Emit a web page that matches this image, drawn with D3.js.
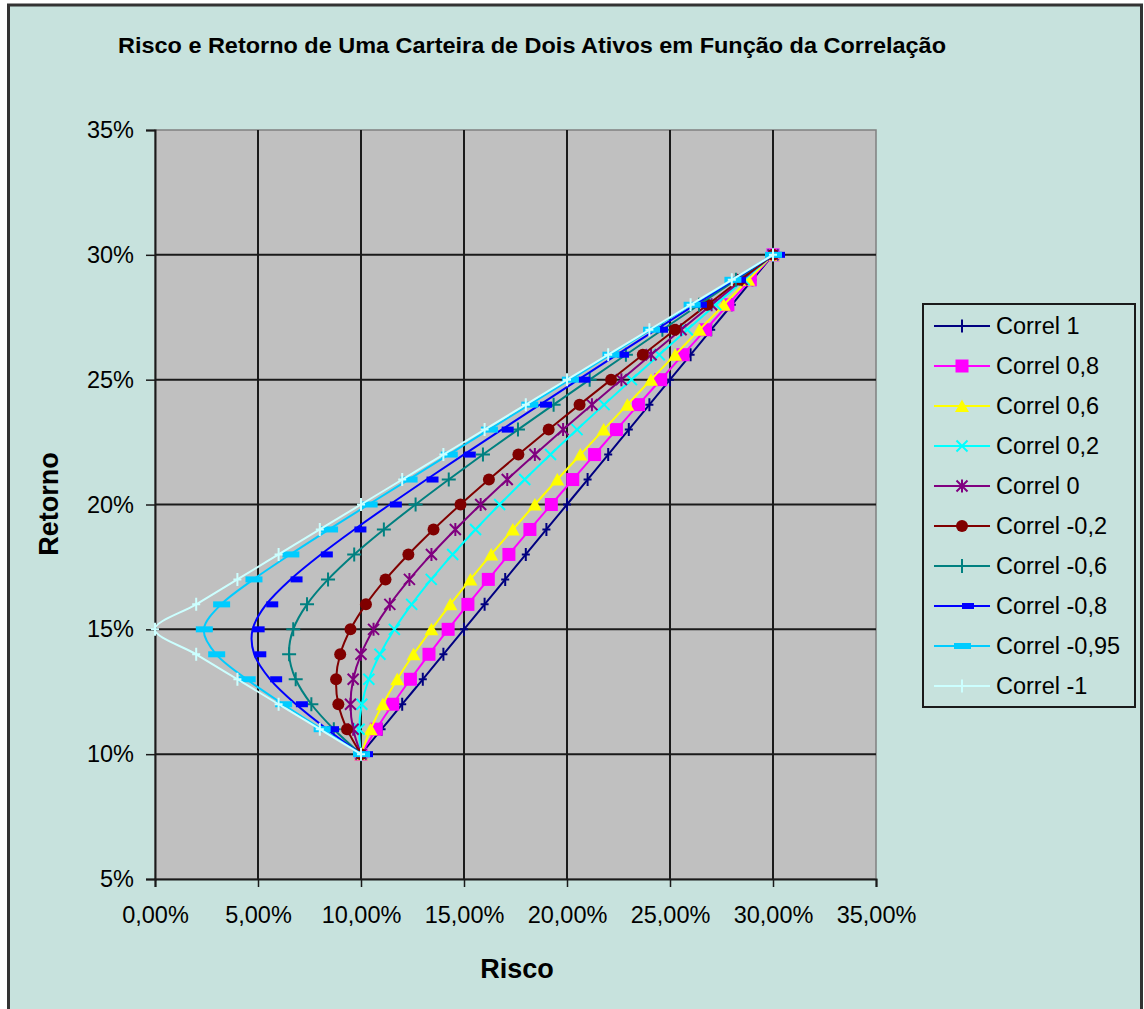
<!DOCTYPE html>
<html>
<head>
<meta charset="utf-8">
<script src="https://cdn.jsdelivr.net/npm/d3@7"></script>
<style>
    body { margin: 0; background: #ffffff; }
    text { font-family: "Liberation Sans", Arial, sans-serif; fill: #000; }
</style>
</head>
<body>
<div id="chart-area"></div>
<script>
// retorno da carteira (%), pesos de 0% a 100% no ativo de maior risco
let retornos = [10, 11, 12, 13, 14, 15, 16, 17, 18, 19, 20, 21, 22, 23, 24, 25, 26, 27, 28, 29, 30];

// risco da carteira (%) para cada correlação
let riscoCorrel1 = [10, 11, 12, 13, 14, 15, 16, 17, 18, 19, 20, 21, 22, 23, 24, 25, 26, 27, 28, 29, 30];
let riscoCorrel08 = [10, 10.74, 11.54, 12.40, 13.30, 14.23, 15.19, 16.18, 17.18, 18.20, 19.24, 20.28, 21.34, 22.40, 23.47, 24.55, 25.63, 26.72, 27.81, 28.90, 30];
let riscoCorrel06 = [10, 10.47, 11.06, 11.76, 12.55, 13.42, 14.34, 15.31, 16.32, 17.37, 18.44, 19.53, 20.65, 21.78, 22.93, 24.08, 25.25, 26.43, 27.61, 28.80, 30];
let riscoCorrel02 = [10, 9.91, 10.04, 10.38, 10.92, 11.62, 12.46, 13.41, 14.45, 15.56, 16.73, 17.95, 19.20, 20.49, 21.80, 23.13, 24.48, 25.84, 27.22, 28.60, 30];
let riscoCorrel0 = [10, 9.62, 9.49, 9.62, 10, 10.61, 11.40, 12.35, 13.42, 14.58, 15.81, 17.10, 18.44, 19.81, 21.21, 22.64, 24.08, 25.54, 27.02, 28.50, 30];
let riscoCorrelM02 = [10, 9.32, 8.90, 8.79, 8.99, 9.49, 10.24, 11.19, 12.30, 13.52, 14.83, 16.21, 17.64, 19.11, 20.61, 22.14, 23.68, 25.24, 26.82, 28.40, 30];
let riscoCorrelM06 = [10, 8.68, 7.59, 6.83, 6.51, 6.71, 7.38, 8.40, 9.67, 11.11, 12.65, 14.26, 15.92, 17.62, 19.35, 21.10, 22.86, 24.63, 26.41, 28.20, 30];
let riscoCorrelM08 = [10, 8.35, 6.84, 5.59, 4.82, 4.74, 5.40, 6.58, 8.05, 9.68, 11.40, 13.18, 14.99, 16.83, 18.69, 20.55, 22.43, 24.32, 26.21, 28.10, 30];
let riscoCorrelM095 = [10, 8.09, 6.22, 4.45, 2.97, 2.37, 3.21, 4.78, 6.57, 8.45, 10.37, 12.31, 14.26, 16.21, 18.17, 20.14, 22.11, 24.08, 26.05, 28.03, 30];
let riscoCorrelM1 = [10, 8, 6, 4, 2, 0, 2, 4, 6, 8, 10, 12, 14, 16, 18, 20, 22, 24, 26, 28, 30];

let nomesSeries = ["Correl 1", "Correl 0,8", "Correl 0,6", "Correl 0,2", "Correl 0",
    "Correl -0,2", "Correl -0,6", "Correl -0,8", "Correl -0,95", "Correl -1"];
let riscosSeries = [riscoCorrel1, riscoCorrel08, riscoCorrel06, riscoCorrel02, riscoCorrel0,
    riscoCorrelM02, riscoCorrelM06, riscoCorrelM08, riscoCorrelM095, riscoCorrelM1];

let xTicks = [0, 5, 10, 15, 20, 25, 30, 35];
let yTicks = [5, 10, 15, 20, 25, 30, 35];

// estilo de cada série (cor + marcador estilo Excel)
let estilos = [
    {color: "#000080", marker: "plusV"},
    {color: "#FF00FF", marker: "square"},
    {color: "#FFFF00", marker: "triangle"},
    {color: "#00FFFF", marker: "x"},
    {color: "#800080", marker: "star"},
    {color: "#800000", marker: "circle"},
    {color: "#008080", marker: "plus"},
    {color: "#0000FF", marker: "dashR"},
    {color: "#00CCFF", marker: "dashC"},
    {color: "#CCFFFF", marker: "plusV"}
];

class RiskReturnChart {
    constructor(parentElement) {
        this.parentElement = parentElement;
        this.initVis();
    }

    initVis() {
        let vis = this;
        vis.W = 1144;
        vis.H = 1009;
        vis.plot = {left: 155, right: 876, top: 130, bottom: 879};

        vis.svg = d3.select("#" + vis.parentElement).append("svg")
            .attr("width", vis.W)
            .attr("height", vis.H);

        // fundo do gráfico
        vis.svg.append("rect")
            .attr("x", 8.5).attr("y", 5)
            .attr("width", 1133).attr("height", 1020)
            .attr("fill", "#C7E2DD")
            .attr("stroke", "#333")
            .attr("stroke-width", 3);

        vis.svg.append("text")
            .attr("x", 118).attr("y", 53)
            .attr("textLength", 828)
            .attr("lengthAdjust", "spacingAndGlyphs")
            .style("font-size", "22px")
            .style("font-weight", "bold")
            .text("Risco e Retorno de Uma Carteira de Dois Ativos em Função da Correlação");

        vis.x = d3.scaleLinear().domain([0, 35]).range([vis.plot.left, vis.plot.right]);
        vis.y = d3.scaleLinear().domain([5, 35]).range([vis.plot.bottom, vis.plot.top]);

        // área de plotagem
        vis.svg.append("rect")
            .attr("x", vis.plot.left).attr("y", vis.plot.top)
            .attr("width", vis.plot.right - vis.plot.left)
            .attr("height", vis.plot.bottom - vis.plot.top)
            .attr("fill", "#C0C0C0")
            .attr("stroke", "#808080")
            .attr("stroke-width", 1.5);

        // grades
        vis.svg.append("g").selectAll("line.vgrid")
            .data(xTicks.filter(d => d > 0 && d < 35))
            .join("line")
            .attr("x1", d => vis.x(d)).attr("x2", d => vis.x(d))
            .attr("y1", vis.plot.top).attr("y2", vis.plot.bottom)
            .attr("stroke", "#1a1a1a").attr("stroke-width", 2);
        vis.svg.append("g").selectAll("line.hgrid")
            .data(yTicks.filter(d => d > 5 && d < 35))
            .join("line")
            .attr("x1", vis.plot.left).attr("x2", vis.plot.right)
            .attr("y1", d => vis.y(d)).attr("y2", d => vis.y(d))
            .attr("stroke", "#1a1a1a").attr("stroke-width", 2);

        // eixos
        vis.xAxis = d3.axisBottom(vis.x)
            .tickValues(xTicks)
            .tickSize(8)
            .tickPadding(19)
            .tickFormat(d => d.toFixed(2).replace(".", ",") + "%");
        vis.yAxis = d3.axisLeft(vis.y)
            .tickValues(yTicks)
            .tickSize(9)
            .tickPadding(12)
            .tickFormat(d => d + "%");

        vis.svg.append("g")
            .attr("class", "x-axis axis")
            .attr("transform", "translate(0," + vis.plot.bottom + ")");
        vis.svg.append("g")
            .attr("class", "y-axis axis")
            .attr("transform", "translate(" + vis.plot.left + ",0)");

        // títulos dos eixos
        vis.svg.append("text")
            .attr("x", 517).attr("y", 978)
            .attr("text-anchor", "middle")
            .style("font-size", "27px")
            .style("font-weight", "bold")
            .text("Risco");
        vis.svg.append("text")
            .attr("transform", "translate(58,504) rotate(-90)")
            .attr("text-anchor", "middle")
            .style("font-size", "27px")
            .style("font-weight", "bold")
            .text("Retorno");

        vis.wrangleData();
    }

    wrangleData() {
        let vis = this;
        vis.displayData = nomesSeries.map((nome, i) => ({
            nome: nome,
            estilo: estilos[i],
            pontos: riscosSeries[i].map((r, j) => ({risco: r, retorno: retornos[j]}))
        }));
        vis.updateVis();
    }

    drawMarker(g, tipo, color) {
        if (tipo === "square") {
            g.append("rect").attr("x", -6.5).attr("y", -6.5).attr("width", 13).attr("height", 13).attr("fill", color);
        } else if (tipo === "triangle") {
            g.append("path").attr("d", "M0,-6.5L7,6H-7Z").attr("fill", color);
        } else if (tipo === "circle") {
            g.append("circle").attr("r", 6).attr("fill", color);
        } else if (tipo === "dashR") {
            g.append("rect").attr("x", 0).attr("y", -3).attr("width", 12).attr("height", 6).attr("fill", color);
        } else if (tipo === "dashC") {
            g.append("rect").attr("x", -8).attr("y", -3).attr("width", 17).attr("height", 6).attr("fill", color);
        } else {
            let d = {
                plus: "M0,-7V7M-7,0H7",
                plusV: "M0,-6.5V6.5M-4,0H4",
                x: "M-5.5,-5.5L5.5,5.5M-5.5,5.5L5.5,-5.5",
                star: "M-5.5,-5.5L5.5,5.5M-5.5,5.5L5.5,-5.5M0,-6.5V6.5"
            }[tipo];
            g.append("path").attr("d", d).attr("fill", "none")
                .attr("stroke", color).attr("stroke-width", 2);
        }
    }

    updateVis() {
        let vis = this;

        vis.svg.select(".x-axis").call(vis.xAxis);
        vis.svg.select(".y-axis").call(vis.yAxis);
        vis.svg.selectAll(".axis .domain").attr("stroke", "#1a1a1a").attr("stroke-width", 2);
        vis.svg.selectAll(".axis .tick line").attr("stroke", "#1a1a1a").attr("stroke-width", 1.5);
        vis.svg.selectAll(".axis text")
            .style("font-size", "23.5px")
            .style("font-family", "'Liberation Sans', Arial, sans-serif")
            .attr("fill", "#000");

        let line = d3.line()
            .x(d => vis.x(d.risco))
            .y(d => vis.y(d.retorno))
            .curve(d3.curveCatmullRom.alpha(0));

        let series = vis.svg.append("g").selectAll("g.serie")
            .data(vis.displayData)
            .join("g")
            .attr("class", "serie");

        series.each(function (s) {
            let g = d3.select(this);
            g.append("path")
                .attr("d", line(s.pontos))
                .attr("fill", "none")
                .attr("stroke", s.estilo.color)
                .attr("stroke-width", 2);
            s.pontos.forEach(p => {
                let m = g.append("g")
                    .attr("transform", "translate(" + vis.x(p.risco) + "," + vis.y(p.retorno) + ")");
                vis.drawMarker(m, s.estilo.marker, s.estilo.color);
            });
        });

        // legenda
        let leg = vis.svg.append("g");
        leg.append("rect")
            .attr("x", 923).attr("y", 304)
            .attr("width", 212).attr("height", 403)
            .attr("fill", "#C7E2DD")
            .attr("stroke", "#1a1a1a")
            .attr("stroke-width", 2);

        vis.displayData.forEach((s, i) => {
            let yy = 326 + i * 40;
            leg.append("line")
                .attr("x1", 934).attr("x2", 990)
                .attr("y1", yy).attr("y2", yy)
                .attr("stroke", s.estilo.color).attr("stroke-width", 2);
            let m = leg.append("g").attr("transform", "translate(962," + yy + ")");
            vis.drawMarker(m, s.estilo.marker, s.estilo.color);
            leg.append("text")
                .attr("x", 996).attr("y", yy)
                .attr("dy", "0.36em")
                .style("font-size", "23.5px")
                .text(s.nome);
        });
    }
}

new RiskReturnChart("chart-area");
</script>
</body>
</html>
